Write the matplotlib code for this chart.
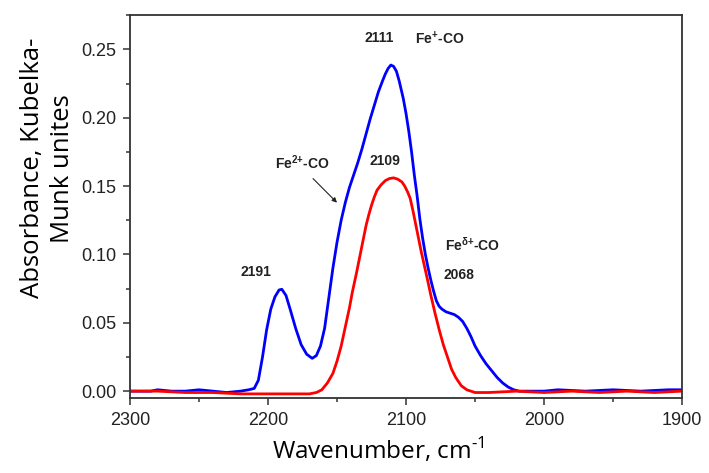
import matplotlib
matplotlib.use("Agg")
import matplotlib.pyplot as plt
from matplotlib.ticker import MultipleLocator

# Blue spectrum (Fe-CO bands, sample 1)
blue_wn = [2300, 2285, 2280, 2270, 2260, 2250, 2240, 2230, 2220, 2214, 2210,
           2207, 2204, 2201, 2198, 2195, 2192, 2190, 2187, 2184, 2180, 2176,
           2172, 2168, 2165, 2162, 2159, 2156, 2153, 2150, 2147, 2144, 2141,
           2138, 2135, 2132, 2129, 2126, 2123, 2120, 2117, 2115, 2113, 2111,
           2109, 2107, 2105, 2102, 2100, 2098, 2096, 2094, 2092, 2090, 2088,
           2086, 2084, 2082, 2080, 2078, 2076, 2074, 2071, 2068, 2065, 2062,
           2059, 2056, 2053, 2050, 2046, 2042, 2038, 2034, 2030, 2026, 2022,
           2018, 2000, 1990, 1970, 1950, 1930, 1910, 1900]
blue_abs = [0.000, 0.000, 0.001, 0.000, 0.000, 0.001, 0.000, -0.001, 0.000,
            0.001, 0.002, 0.008, 0.025, 0.045, 0.060, 0.069, 0.074, 0.0745,
            0.070, 0.060, 0.046, 0.034, 0.027, 0.024, 0.026, 0.033, 0.046,
            0.068, 0.090, 0.109, 0.125, 0.138, 0.149, 0.158, 0.167, 0.177,
            0.188, 0.199, 0.209, 0.219, 0.227, 0.232, 0.236, 0.2385, 0.2375,
            0.234, 0.227, 0.214, 0.203, 0.190, 0.175, 0.158, 0.143, 0.126,
            0.112, 0.100, 0.090, 0.081, 0.073, 0.066, 0.062, 0.060, 0.058,
            0.057, 0.056, 0.054, 0.051, 0.046, 0.040, 0.033, 0.026, 0.020,
            0.015, 0.010, 0.006, 0.003, 0.001, 0.000, 0.000, 0.001, 0.000,
            0.001, 0.000, 0.001, 0.001]

# Red spectrum (sample 2)
red_wn = [2300, 2280, 2260, 2240, 2220, 2200, 2180, 2170, 2165, 2161, 2157,
          2153, 2150, 2147, 2144, 2141, 2139, 2136, 2134, 2131, 2129, 2127,
          2125, 2123, 2121, 2118, 2115, 2112, 2109, 2106, 2103, 2101, 2099,
          2097, 2095, 2093, 2091, 2089, 2087, 2085, 2082, 2079, 2076, 2073,
          2070, 2067, 2064, 2060, 2056, 2050, 2040, 2020, 2000, 1980, 1960,
          1940, 1920, 1900]
red_abs = [0.000, 0.000, -0.001, -0.001, -0.002, -0.002, -0.002, -0.002,
           -0.001, 0.001, 0.006, 0.013, 0.022, 0.033, 0.047, 0.061, 0.072,
           0.086, 0.096, 0.111, 0.121, 0.129, 0.136, 0.142, 0.147, 0.151,
           0.154, 0.1555, 0.156, 0.155, 0.153, 0.150, 0.146, 0.141, 0.132,
           0.122, 0.112, 0.102, 0.093, 0.084, 0.070, 0.057, 0.045, 0.034,
           0.025, 0.016, 0.010, 0.004, 0.001, -0.001, -0.001, 0.000, -0.001,
           0.000, -0.001, 0.000, -0.001, 0.000]

xticks = [2300, 2200, 2100, 2000, 1900]

fig = plt.figure(figsize=(7.09, 4.73), dpi=100)
ax = fig.add_axes([0.1834, 0.1586, 0.7786, 0.8094])

ax.plot(blue_wn, blue_abs, color="#0000ff", lw=2.0)
ax.plot(red_wn, red_abs, color="#ff0000", lw=2.0)

ax.set_xlim(2300, 1900)
ax.set_ylim(-0.005, 0.275)
ax.set_xticks(xticks)
ax.xaxis.set_minor_locator(MultipleLocator(50))
ax.yaxis.set_major_locator(MultipleLocator(0.05))
ax.yaxis.set_minor_locator(MultipleLocator(0.025))
ax.yaxis.set_major_formatter(matplotlib.ticker.FormatStrFormatter("%.2f"))

for s in ax.spines.values():
    s.set_linewidth(1.3)
    s.set_color("#333333")
ax.tick_params(which="both", direction="out", color="#333333", width=1.1,
               top=False, right=False)
ax.tick_params(which="major", length=5, pad=5, labelsize=13)
ax.tick_params(which="minor", length=3)
for lab in ax.get_xticklabels() + ax.get_yticklabels():
    lab.set_family("Liberation Sans")
    lab.set_color("#222222")

ax.set_xlabel("Wavenumber, cm$^{\\mathregular{\u2010}\\mathregular{1}}$",
              family="Open Sans", fontsize=17.5, va="top")
ax.xaxis.set_label_coords(0.45, -0.10)
ax.set_ylabel("Absorbance, Kubelka-\nMunk unites", family="Open Sans",
              fontsize=18.5, linespacing=1.25)
ax.yaxis.set_label_coords(-0.10, 0.60)

# peak labels
lab_kw = dict(family="Liberation Sans", fontweight="bold", fontsize=10,
              color="#222222")
ax.text(2119.6, 0.258, "2111", ha="center", va="center", **lab_kw)
ax.text(2093.5, 0.258, "Fe$^{\\mathregular{{+}}}$-CO", ha="left", va="center", **lab_kw)
ax.text(2115.2, 0.168, "2109", ha="center", va="center", **lab_kw)
ax.text(2175.0, 0.167, "Fe$^{\\mathregular{2}{\\mathregular{+}}}$-CO", ha="center", va="center", **lab_kw)
ax.text(2208.7, 0.0868, "2191", ha="center", va="center", **lab_kw)
ax.text(2071.7, 0.107, "Fe$^{\\mathregular{δ}{\\mathregular{+}}}$-CO", ha="left", va="center", **lab_kw)
ax.text(2073.2, 0.0846, "2068", ha="left", va="center", **lab_kw)
ax.annotate("", xy=(2148.6, 0.1364), xytext=(2168.8, 0.1569),
            arrowprops=dict(arrowstyle="-|>", color="#222222", lw=0.8,
                            mutation_scale=7))

fig.savefig("out.png", dpi=100)
